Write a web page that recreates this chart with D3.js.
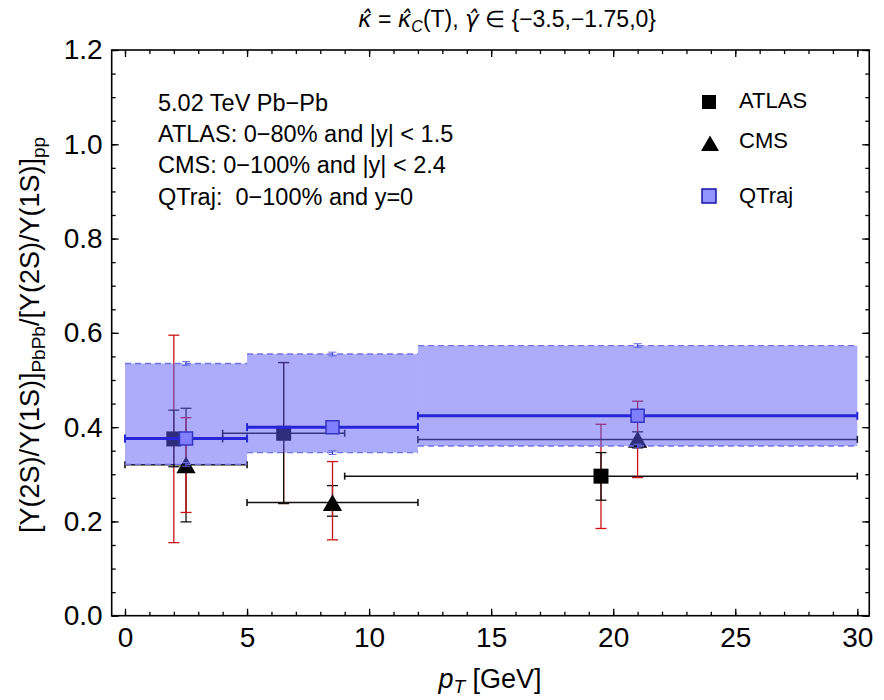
<!DOCTYPE html>
<html><head><meta charset="utf-8">
<script src="https://cdn.jsdelivr.net/npm/d3@7"></script>
<style>
body{margin:0;background:#fff;}
text{font-family:"Liberation Sans",Arial,sans-serif;white-space:pre;}
</style></head>
<body><svg id="c" width="884" height="700"></svg>
<script>
// ---------- data ----------
const xTicks = [0, 5, 10, 15, 20, 25, 30];
const yTicks = [0.0, 0.2, 0.4, 0.6, 0.8, 1.0, 1.2];
const yTickLabels = ["0.0", "0.2", "0.4", "0.6", "0.8", "1.0", "1.2"];

const atlasPt    = [2, 6.5, 19.5];
const atlasPtLo  = [0, 4, 9];
const atlasPtHi  = [4, 9, 30];
const atlasVal   = [0.375, 0.387, 0.296];
const atlasBlackLo = [0.316, 0.238, 0.245];
const atlasBlackHi = [0.436, 0.537, 0.346];
const atlasRedLo   = [0.155, 0.238, 0.185];
const atlasRedHi   = [0.595, 0.537, 0.406];

const cmsPt    = [2.5, 8.5, 21];
const cmsPtLo  = [0, 5, 12];
const cmsPtHi  = [5, 12, 30];
const cmsVal   = [0.320, 0.240, 0.374];
const cmsBlackLo = [0.199, 0.211, 0.356];
const cmsBlackHi = [0.440, 0.276, 0.390];
const cmsRedLo   = [0.219, 0.161, 0.293];
const cmsRedHi   = [0.420, 0.327, 0.455];

const qtPt    = [2.5, 8.5, 21];
const qtPtLo  = [0, 5, 12];
const qtPtHi  = [5, 12, 30];
const qtVal   = [0.376, 0.400, 0.424];
const qtBandLo = [0.321, 0.346, 0.360];
const qtBandHi = [0.535, 0.555, 0.573];
const qtEdgeErr = [0.004, 0.004, 0.004];

const infoLines = ["5.02 TeV Pb\u2212Pb", "ATLAS: 0\u221280% and |y| < 1.5", "CMS: 0\u2212100% and |y| < 2.4", "QTraj:  0\u2212100% and y=0"];
const legendNames = ["ATLAS", "CMS", "QTraj"];

// ---------- scales ----------
const svg = d3.select("#c");
const x = d3.scaleLinear().domain([0, 30]).range([125, 857.3]);
const y = d3.scaleLinear().domain([0, 1.2]).range([615.7, 50]);
const xMin = -0.545, xMax = 30.49;
const L = x(xMin), R = x(xMax), T = y(1.2), B = y(0);

const black = "#141010", red = "#cc1111";
const triOff = 2.8; // centre triangle on its bounding box

// ---------- data marks (drawn under the band) ----------
const g = svg.append("g");
function vbar(px, lo, hi, col, cap) {
  g.append("line").attr("x1", x(px)).attr("x2", x(px)).attr("y1", y(lo)).attr("y2", y(hi)).attr("stroke", col).attr("stroke-width", 1.3);
  [lo, hi].forEach(v => g.append("line").attr("x1", x(px) - cap).attr("x2", x(px) + cap).attr("y1", y(v)).attr("y2", y(v)).attr("stroke", col).attr("stroke-width", 1.3));
}
function hbar(lo, hi, v, col, w) {
  g.append("line").attr("x1", x(lo)).attr("x2", x(hi)).attr("y1", y(v)).attr("y2", y(v)).attr("stroke", col).attr("stroke-width", w);
  [lo, hi].forEach(p => g.append("line").attr("x1", x(p)).attr("x2", x(p)).attr("y1", y(v) - 3.5).attr("y2", y(v) + 3.5).attr("stroke", col).attr("stroke-width", 1.6));
}
atlasPt.forEach((p, i) => {
  hbar(atlasPtLo[i], atlasPtHi[i], atlasVal[i], black, 1.5);
  vbar(p, atlasRedLo[i], atlasRedHi[i], red, 5.5);
  vbar(p, atlasBlackLo[i], atlasBlackHi[i], black, 5.5);
});
cmsPt.forEach((p, i) => {
  hbar(cmsPtLo[i], cmsPtHi[i], cmsVal[i], black, 1.5);
  vbar(p, cmsBlackLo[i], cmsBlackHi[i], black, 5.5);
  vbar(p, cmsRedLo[i], cmsRedHi[i], red, 5.5);
});
const sq = d3.symbol().type(d3.symbolSquare).size(15 * 15);
const tri = d3.symbol().type(d3.symbolTriangle).size(160);
atlasPt.forEach((p, i) => g.append("path").attr("d", sq).attr("transform", `translate(${x(p)},${y(atlasVal[i])})`).attr("fill", "#000"));
cmsPt.forEach((p, i) => g.append("path").attr("d", tri).attr("transform", `translate(${x(p)},${y(cmsVal[i]) + triOff})`).attr("fill", "#000"));

// ---------- QTraj band ----------
const band = svg.append("g");
qtPt.forEach((p, i) => {
  band.append("rect").attr("x", x(qtPtLo[i])).attr("width", x(qtPtHi[i]) - x(qtPtLo[i]))
    .attr("y", y(qtBandHi[i])).attr("height", y(qtBandLo[i]) - y(qtBandHi[i]))
    .attr("fill", "#5a5af5").attr("fill-opacity", 0.5);
  [qtBandLo[i], qtBandHi[i]].forEach(v => {
    band.append("line").attr("x1", x(qtPtLo[i])).attr("x2", x(qtPtHi[i])).attr("y1", y(v)).attr("y2", y(v))
      .attr("stroke", "#7272e6").attr("stroke-width", 1.4).attr("stroke-dasharray", "6,4");
    band.append("line").attr("x1", x(p)).attr("x2", x(p)).attr("y1", y(v - qtEdgeErr[i])).attr("y2", y(v + qtEdgeErr[i])).attr("stroke", "#4a4ad8").attr("stroke-width", 1.3);
    [v - qtEdgeErr[i], v + qtEdgeErr[i]].forEach(e => band.append("line").attr("x1", x(p) - 4).attr("x2", x(p) + 4).attr("y1", y(e)).attr("y2", y(e)).attr("stroke", "#6a6ae0").attr("stroke-width", 1));
  });
});
qtPt.forEach((p, i) => {
  band.append("line").attr("x1", x(qtPtLo[i])).attr("x2", x(qtPtHi[i])).attr("y1", y(qtVal[i])).attr("y2", y(qtVal[i])).attr("stroke", "#2626d8").attr("stroke-width", 3);
  [qtPtLo[i], qtPtHi[i]].forEach(e => band.append("line").attr("x1", x(e)).attr("x2", x(e)).attr("y1", y(qtVal[i]) - 4).attr("y2", y(qtVal[i]) + 4).attr("stroke", "#2626d8").attr("stroke-width", 2));
});
const sqQ = d3.symbol().type(d3.symbolSquare).size(13 * 13);
qtPt.forEach((p, i) => band.append("path").attr("d", sqQ).attr("transform", `translate(${x(p)},${y(qtVal[i])})`).attr("fill", "#8080ff").attr("stroke", "#3434c4").attr("stroke-width", 1.5));

// ---------- axes / frame ----------
const ax = svg.append("g");
function styleAxis(sel) { sel.select(".domain").remove(); sel.selectAll("line").attr("stroke", "#000").attr("stroke-width", 1.3); }
const minorX = d3.range(0, 31, 1), minorY = d3.range(0, 1.2001, 0.05);
ax.append("g").attr("transform", `translate(0,${B})`).call(d3.axisBottom(x).tickValues(minorX).tickSize(-4).tickFormat("")).call(styleAxis);
ax.append("g").attr("transform", `translate(0,${B})`).call(d3.axisBottom(x).tickValues(xTicks).tickSize(-7).tickPadding(11).tickFormat(d3.format("d"))).call(styleAxis)
  .selectAll("text").attr("font-size", 28).attr("fill", "#000");
ax.append("g").attr("transform", `translate(0,${T})`).call(d3.axisTop(x).tickValues(minorX).tickSize(-4).tickFormat("")).call(styleAxis);
ax.append("g").attr("transform", `translate(0,${T})`).call(d3.axisTop(x).tickValues(xTicks).tickSize(-7).tickFormat("")).call(styleAxis);
ax.append("g").attr("transform", `translate(${L},0)`).call(d3.axisLeft(y).tickValues(minorY).tickSize(-4).tickFormat("")).call(styleAxis);
ax.append("g").attr("transform", `translate(${L},0)`).call(d3.axisLeft(y).tickValues(yTicks).tickSize(-7).tickPadding(9).tickFormat((d, i) => yTickLabels[i])).call(styleAxis)
  .selectAll("text").attr("font-size", 28).attr("fill", "#000");
ax.append("g").attr("transform", `translate(${R},0)`).call(d3.axisRight(y).tickValues(minorY).tickSize(-4).tickFormat("")).call(styleAxis);
ax.append("g").attr("transform", `translate(${R},0)`).call(d3.axisRight(y).tickValues(yTicks).tickSize(-7).tickFormat("")).call(styleAxis);
ax.append("rect").attr("x", L).attr("y", T).attr("width", R - L).attr("height", B - T).attr("fill", "none").attr("stroke", "#000").attr("stroke-width", 1.6);

// ---------- title ----------
const title = svg.append("text").attr("x", 507).attr("y", 27).attr("text-anchor", "middle").attr("font-size", 23);
const hatFont = "DejaVu Sans";
title.append("tspan").attr("font-family", hatFont).attr("font-style", "italic").text("\u03BA\u0302");
title.append("tspan").text(" = ");
title.append("tspan").attr("font-family", hatFont).attr("font-style", "italic").text("\u03BA\u0302");
title.append("tspan").attr("font-style", "italic").attr("font-size", 16).attr("dy", 5).text("C");
title.append("tspan").attr("dy", -5).text("(T), ");
title.append("tspan").attr("font-family", hatFont).attr("font-style", "italic").text("\u03B3\u0302");
title.append("tspan").text(" \u2208 {\u22123.5,\u22121.75,0}");

// ---------- axis titles ----------
const xl = svg.append("text").attr("x", 490).attr("y", 688).attr("text-anchor", "middle").attr("font-size", 27);
xl.append("tspan").attr("font-style", "italic").text("p");
xl.append("tspan").attr("font-style", "italic").attr("font-size", 19).attr("dy", 5).text("T");
xl.append("tspan").attr("dy", -5).text(" [GeV]");

const yl = svg.append("text").attr("transform", "translate(39,335) rotate(-90)").attr("text-anchor", "middle").attr("font-size", 27);
yl.append("tspan").text("[\u03A5(2S)/\u03A5(1S)]");
yl.append("tspan").attr("font-size", 19).attr("dy", 6).text("PbPb");
yl.append("tspan").attr("dy", -6).text("/[\u03A5(2S)/\u03A5(1S)]");
yl.append("tspan").attr("font-size", 19).attr("dy", 6).text("pp");

// ---------- info text ----------
infoLines.forEach((t, i) => svg.append("text").attr("x", 158).attr("y", 111 + i * 31.2).attr("font-size", 23.5).attr("fill", "#000").text(t));

// ---------- legend ----------
const lg = svg.append("g");
const legY = [102, 143, 196];
lg.append("path").attr("d", d3.symbol().type(d3.symbolSquare).size(14 * 14)).attr("transform", `translate(709,${legY[0]})`).attr("fill", "#000");
lg.append("path").attr("d", d3.symbol().type(d3.symbolTriangle).size(140)).attr("transform", `translate(710,${legY[1] + triOff})`).attr("fill", "#000");
lg.append("path").attr("d", d3.symbol().type(d3.symbolSquare).size(14 * 14)).attr("transform", `translate(709,${legY[2]})`).attr("fill", "#9393ff").attr("stroke", "#1414a8").attr("stroke-width", 1.5);
legendNames.forEach((n, i) => lg.append("text").attr("x", 739).attr("y", [108, 148, 203][i]).attr("font-size", 22).attr("fill", "#000").text(n));
</script></body></html>
